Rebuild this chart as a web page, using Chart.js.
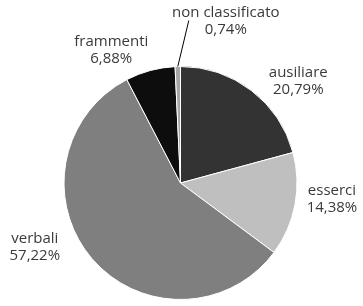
<!DOCTYPE html>
<html>
<head>
<meta charset="utf-8">
<script src="https://cdn.jsdelivr.net/npm/chart.js@4"></script>
<style>
  html, body { margin: 0; padding: 0; background: #fff; }
  #wrap { width: 363px; height: 306px; position: relative; }
</style>
</head>
<body>
<div id="wrap"><canvas id="myChart"></canvas></div>
<script>
const labels = ["ausiliare", "esserci", "verbali", "frammenti", "non classificato"];
const values = [20.79, 14.38, 57.22, 6.88, 0.74];
const percentText = ["20,79%", "14,38%", "57,22%", "6,88%", "0,74%"];

const colors = ["#333333", "#bfbfbf", "#7f7f7f", "#0d0d0d", "#a6a6a6"];

// label placement relative to the outer middle of each slice
const labelShift = [
  { dx: 47, dy: -9 },
  { dx: 37, dy: -5 },
  { dx: -57, dy: -11 },
  { dx: -39, dy: -20 },
  { dx: 48, dy: -45, leader: true },
];

const pieLabels = {
  id: "pieLabels",
  afterDatasetsDraw(chart) {
    const ctx = chart.ctx;
    const meta = chart.getDatasetMeta(0);
    ctx.save();
    ctx.font = "15px 'Open Sans'";
    ctx.fillStyle = "#3a3a3a";
    ctx.textAlign = "center";
    ctx.textBaseline = "middle";
    meta.data.forEach((arc, i) => {
      const mid = (arc.startAngle + arc.endAngle) / 2;
      const ox = arc.x + Math.cos(mid) * arc.outerRadius;
      const oy = arc.y + Math.sin(mid) * arc.outerRadius;
      const s = labelShift[i];
      const tx = ox + s.dx;
      const ty = oy + s.dy;
      ctx.fillText(labels[i], tx, ty - 8.5);
      ctx.fillText(percentText[i], tx, ty + 8.5);
      if (s.leader) {
        ctx.strokeStyle = "#000";
        ctx.lineWidth = 1;
        ctx.beginPath();
        ctx.moveTo(ox, oy);
        ctx.lineTo(tx - 37, ty - 1);
        ctx.stroke();
      }
    });
    ctx.restore();
  },
};

new Chart(document.getElementById("myChart"), {
  type: "pie",
  data: {
    labels: labels,
    datasets: [
      {
        data: values,
        backgroundColor: colors,
        borderColor: "#ffffff",
        borderWidth: 1,
      },
    ],
  },
  options: {
    responsive: true,
    maintainAspectRatio: false,
    animation: false,
    layout: { padding: { top: 66, bottom: 6, left: 63, right: 65 } },
    plugins: {
      legend: { display: false },
      tooltip: { enabled: false },
    },
  },
  plugins: [pieLabels],
});
</script>
</body>
</html>
